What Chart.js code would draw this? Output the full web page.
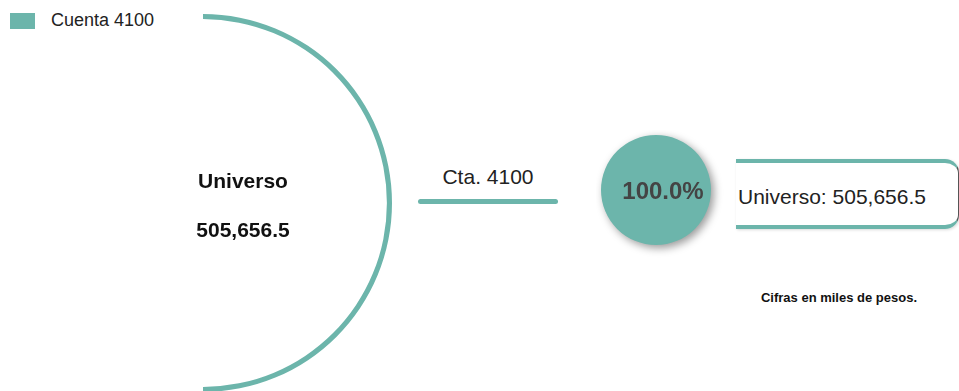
<!DOCTYPE html>
<html>
<head>
<meta charset="utf-8">
<script src="https://cdn.jsdelivr.net/npm/chart.js@4/dist/chart.umd.min.js"></script>
<style>
  body { margin: 0; background: #fff; font-family: "Liberation Sans", Arial, sans-serif; }
  #page { position: relative; width: 959px; height: 391px; overflow: hidden; }
  .abs { position: absolute; }
  #legend { left: 10px; top: 10px; display: flex; align-items: center; font-size: 18px; color: #222; }
  #legend .box { width: 25px; height: 16px; margin-right: 16px; }
  #ctaLabel { left: 408px; top: 165px; width: 160px; text-align: center; font-size: 21px; color: #222; }
  #ctaLine { left: 418px; top: 199px; width: 140px; height: 5px; border-radius: 3px; }
  #valueBox { left: 736px; top: 159px; width: 222px; height: 62px; border-top: 4px solid; border-bottom: 4px solid;
              border-right: 1.5px solid #555; border-radius: 0 14px 14px 0; box-shadow: 1px 1px 3px rgba(0,0,0,0.15); }
  #valueText { left: 738px; top: 185px; font-size: 21px; color: #222; }
  #note { left: 739px; top: 290px; width: 200px; text-align: center; font-size: 13px; font-weight: bold; color: #111; }
</style>
</head>
<body>
<div id="page">
  <div class="abs" style="left:203px; top:14px; width:189px; height:378px;"><canvas id="arcChart"></canvas></div>
  <div class="abs" style="left:596px; top:130px; width:130px; height:130px;"><canvas id="shareChart"></canvas></div>
  <div id="legend" class="abs"></div>
  <div id="ctaLabel" class="abs"></div>
  <div id="ctaLine" class="abs"></div>
  <div id="valueBox" class="abs"></div>
  <div id="valueText" class="abs"></div>
  <div id="note" class="abs">Cifras en miles de pesos.</div>
</div>
<script>
// data
const categories = ['Cuenta 4100'];
const shortLabels = ['Cta. 4100'];
const values = [505656.5];
const shares = [100.0];
const totalLabel = 'Universo';

const teal = '#6cb5ab';

function fmt(v) {
    return v.toLocaleString('en-US', { minimumFractionDigits: 1, maximumFractionDigits: 1 });
}
const total = values.reduce((a, b) => a + b, 0);

// html labels
document.getElementById('legend').innerHTML =
    '<span class="box" style="background:' + teal + '"></span>' + categories[0];
document.getElementById('ctaLabel').innerText = shortLabels[0];
document.getElementById('ctaLine').style.background = teal;
document.getElementById('valueBox').style.borderTopColor = teal;
document.getElementById('valueBox').style.borderBottomColor = teal;
document.getElementById('valueText').innerText = totalLabel + ': ' + fmt(total);

// big half ring for the total
new Chart(document.getElementById('arcChart'), {
    type: 'doughnut',
    data: {
        labels: categories,
        datasets: [{ data: values, backgroundColor: teal, borderWidth: 0 }]
    },
    options: {
        responsive: true,
        maintainAspectRatio: false,
        animation: false,
        rotation: 0,
        circumference: 180,
        cutout: '97.3%',
        layout: { padding: 0 },
        plugins: { legend: { display: false }, tooltip: { enabled: false } },
        events: []
    }
});

// total text to the left of the ring
const totalDiv = document.createElement('div');
totalDiv.className = 'abs';
totalDiv.style.cssText = 'left:143px; top:156px; width:200px; text-align:center; font-size:21px; font-weight:bold; color:#111; line-height:49px;';
totalDiv.innerHTML = totalLabel + '<br>' + fmt(total);
document.getElementById('page').appendChild(totalDiv);

// share circle with shadow
const shadowPlugin = {
    id: 'shadow',
    beforeDatasetsDraw(chart) {
        const ctx = chart.ctx;
        ctx.save();
        ctx.shadowColor = 'rgba(0,0,0,0.4)';
        ctx.shadowBlur = 8;
        ctx.shadowOffsetX = 3;
        ctx.shadowOffsetY = 3;
    },
    afterDatasetsDraw(chart) {
        chart.ctx.restore();
        const ctx = chart.ctx;
        const arc = chart.getDatasetMeta(0).data[0];
        ctx.save();
        ctx.fillStyle = '#444';
        ctx.font = 'bold 24px "Liberation Sans", Arial, sans-serif';
        ctx.textAlign = 'center';
        ctx.textBaseline = 'middle';
        ctx.fillText(shares[0].toFixed(1) + '%', arc.x + 7, arc.y + 2);
        ctx.restore();
    }
};

new Chart(document.getElementById('shareChart'), {
    type: 'pie',
    data: {
        labels: categories,
        datasets: [{ data: shares, backgroundColor: teal, borderWidth: 0 }]
    },
    options: {
        responsive: true,
        maintainAspectRatio: false,
        animation: false,
        layout: { padding: { left: 5, top: 5, right: 15, bottom: 15 } },
        plugins: { legend: { display: false }, tooltip: { enabled: false } },
        events: []
    },
    plugins: [shadowPlugin]
});
</script>
</body>
</html>
